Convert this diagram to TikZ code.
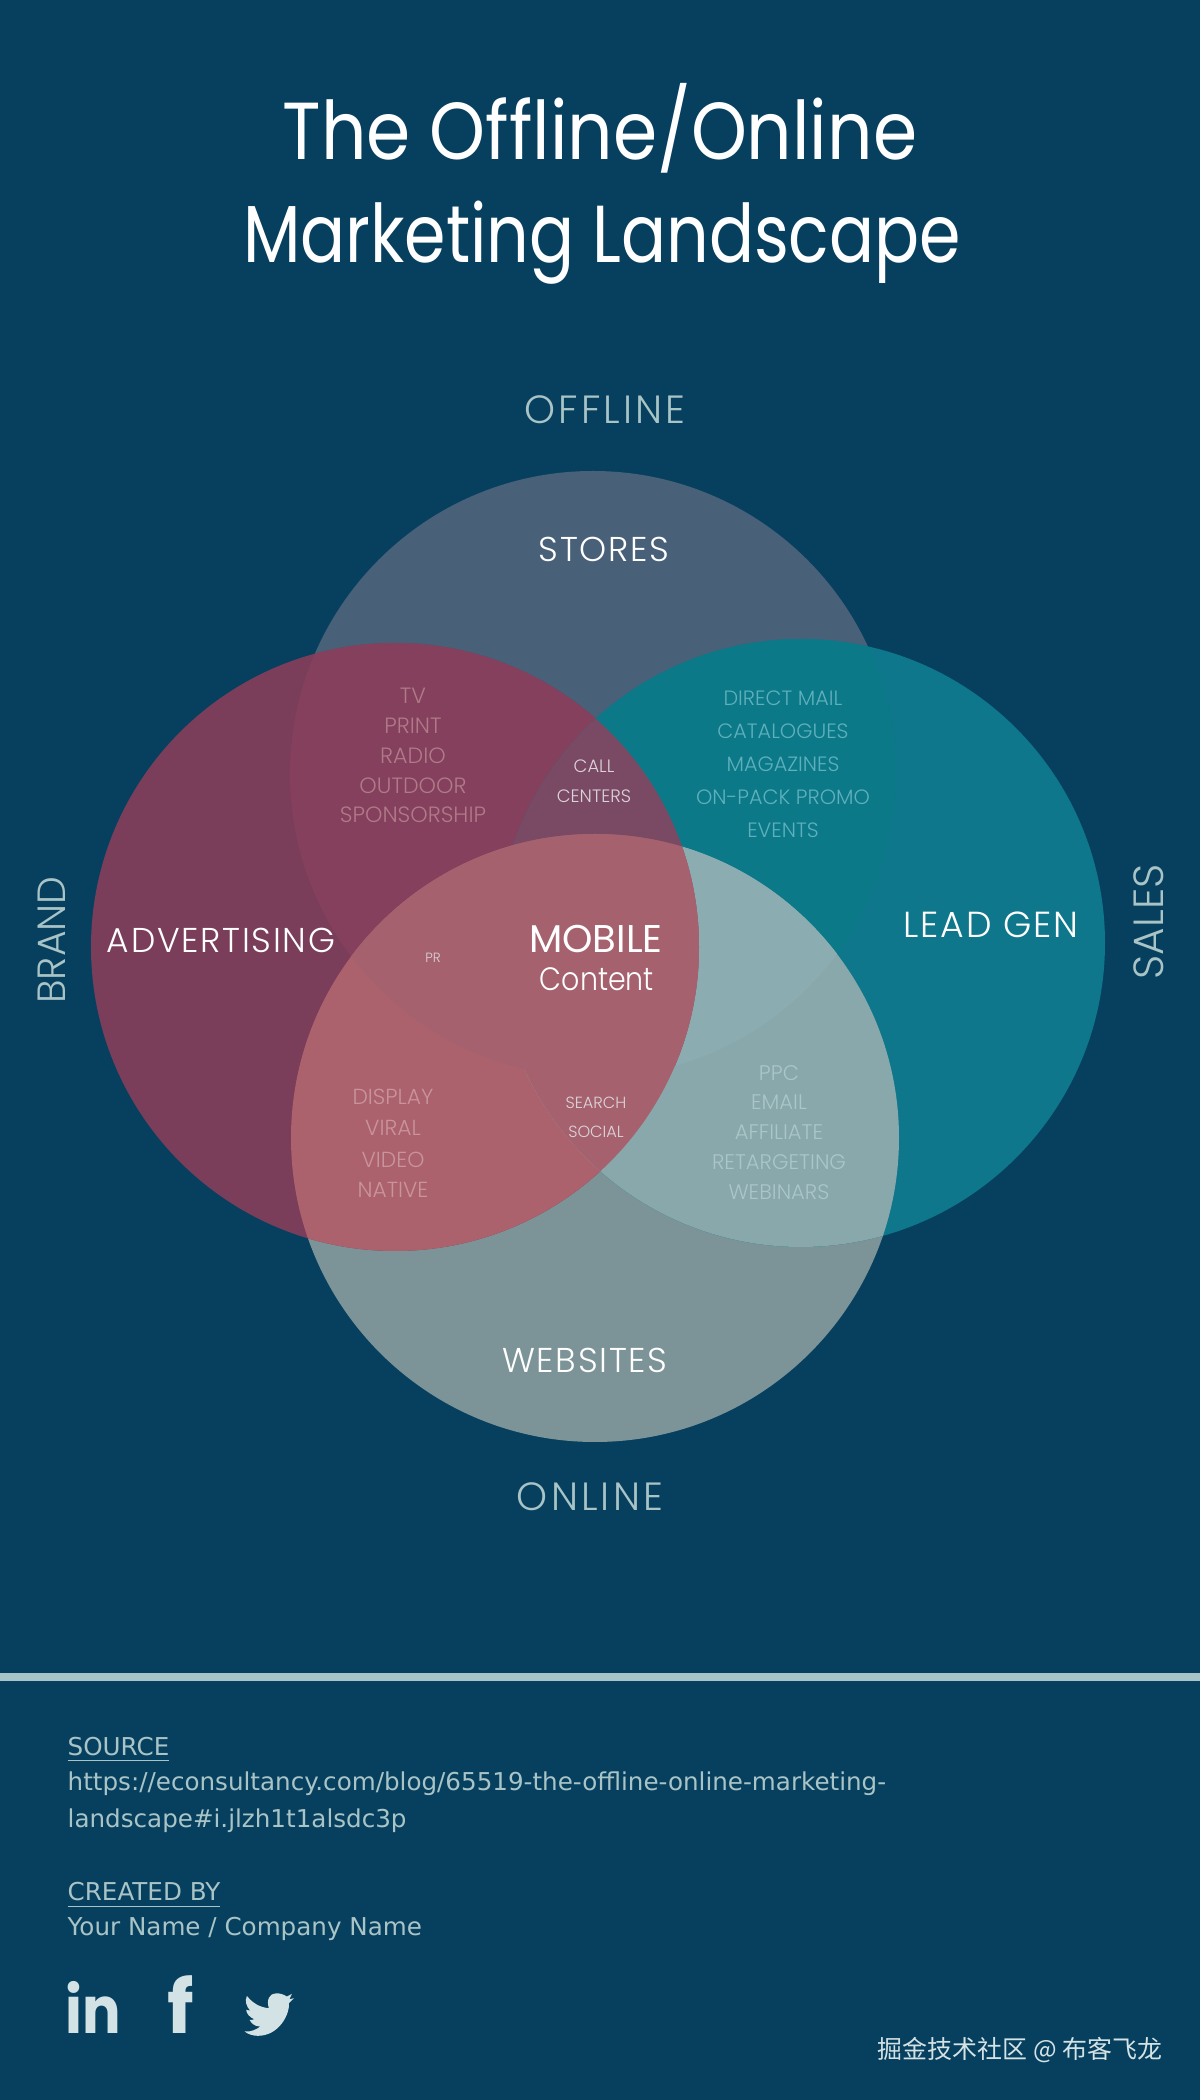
\documentclass[tikz,border=0pt]{standalone}
\usepackage{fontspec}
\newfontfamily\thinfont{Poppins Light}
\newfontfamily\widefont[LetterSpace=8]{Poppins Light}
\newfontfamily\areafont[LetterSpace=5]{Poppins Light}
\newfontfamily\narrowfont[FakeStretch=0.88]{Poppins Light}
\newfontfamily\titlefont[FakeStretch=0.88]{Poppins}
\newfontfamily\titlenarrow[FakeStretch=0.825]{Poppins}
\newfontfamily\plainfont{Poppins}
\newfontfamily\footfont{DejaVu Sans}
\newfontfamily\cjkfont{Noto Sans CJK SC}

\definecolor{bgblue}{HTML}{07405F}
\definecolor{topfill}{HTML}{486078}
\definecolor{redfill}{HTML}{7A3E5A}
\definecolor{tealfill}{HTML}{0E778B}
\definecolor{botfill}{HTML}{7C9497}
\definecolor{redtop}{HTML}{84405C}
\definecolor{redbot}{HTML}{AB626D}
\definecolor{tealtop}{HTML}{0C7988}
\definecolor{tealbot}{HTML}{88A8AB}
\definecolor{tealmid}{HTML}{8BADB1}
\definecolor{callfill}{HTML}{7A4A64}
\definecolor{midfill}{HTML}{A5626E}
\definecolor{pale}{HTML}{A9C4C6}
\definecolor{redlisttext}{HTML}{B07A88}
\definecolor{teallisttext}{HTML}{5FB0BC}
\definecolor{paylisttext}{HTML}{AAC6C8}
\definecolor{showlisttext}{HTML}{C9949C}
\definecolor{smalltext}{HTML}{DCD4DA}
\definecolor{iconfill}{HTML}{D3E2E4}

\def\circred{(3.95,11.53) circle (3.04)}
\def\circteal{(8.01,11.57) circle (3.04)}
\def\circtop{(5.93,13.26) circle (3.03)}
\def\circbot{(5.95,9.62) circle (3.04)}

\tikzset{
  head/.style={inner sep=0, anchor=base, white, font=\titlefont\fontsize{23}{23}\selectfont},
  outer/.style={inner sep=0, text=pale, font=\widefont\fontsize{11.2}{11.2}\selectfont},
  area/.style={inner sep=0, white, font=\areafont\fontsize{9.8}{9.8}\selectfont},
  redlist/.style={inner sep=0, text=redlisttext, font=\thinfont\fontsize{6.3}{6.3}\selectfont},
  teallist/.style={inner sep=0, text=teallisttext, font=\thinfont\fontsize{5.9}{5.9}\selectfont},
  paylist/.style={inner sep=0, text=paylisttext, font=\thinfont\fontsize{6}{6}\selectfont},
  showlist/.style={inner sep=0, text=showlisttext, font=\thinfont\fontsize{6.2}{6.2}\selectfont},
  small/.style={inner sep=0, text=smalltext, font=\thinfont\fontsize{5.1}{5.1}\selectfont},
  foot/.style={inner sep=0, anchor=base west, text=pale, font=\footfont\fontsize{7}{7}\selectfont},
  icon/.style={inner sep=0, anchor=base, text=iconfill, font=\titlefont\bfseries\fontsize{18.5}{18.5}\selectfont},
}

\begin{document}
\begin{tikzpicture}
    \useasboundingbox (0,0) rectangle (12,21);
    \fill[bgblue] (0,0) rectangle (12,21);

    % circles
    \fill[topfill] \circtop;
    \fill[botfill] \circbot;
    \fill[tealfill] \circteal;
    \fill[redfill] \circred;

    % overlaps of two
    \begin{scope} \clip \circred; \fill[redtop] \circtop; \end{scope}
    \begin{scope} \clip \circred; \fill[redbot] \circbot; \end{scope}
    \begin{scope} \clip \circteal; \fill[tealtop] \circtop; \end{scope}
    \begin{scope} \clip \circteal; \fill[tealbot] \circbot; \end{scope}

    % overlaps of three
    \begin{scope} \clip \circteal; \clip \circbot; \fill[tealmid] \circtop; \end{scope}
    \begin{scope} \clip \circred; \clip \circteal; \fill[callfill] \circtop; \end{scope}
    \begin{scope} \clip \circred; \clip \circbot; \fill[midfill] \circtop; \end{scope}
    \begin{scope} \clip \circred; \clip \circbot; \fill[midfill] \circteal; \end{scope}

    % title
    \node[head] (titleone) at (6.00,19.40) {The Offline/Online};
    \node[head, font=\titlenarrow\fontsize{23}{23}\selectfont] (titletwo) at (6.02,18.37) {Marketing Landscape};

    % axes of the chart
    \node[outer] (offline) at (6.05,16.90) {OFFLINE};
    \node[outer] (online) at (5.90,6.03) {ONLINE};
    \node[outer, font=\thinfont\fontsize{11.2}{11.2}\selectfont, rotate=90] (brand) at (0.52,11.60) {BRAND};
    \node[outer, font=\thinfont\fontsize{12}{12}\selectfont, rotate=90] (sales) at (11.49,11.78) {SALES};

    % circle names
    \node[area] (stores) at (6.04,15.51) {STORES};
    \node[area] (advertising) at (2.21,11.60) {ADVERTISING};
    \node[area, font=\areafont\fontsize{10.3}{10.3}\selectfont] (leadgen) at (9.91,11.75) {LEAD GEN};
    \node[area] (websites) at (5.85,7.40) {WEBSITES};

    % middle
    \node[area, font=\plainfont\fontsize{11}{11}\selectfont] (mobile) at (5.96,11.61) {MOBILE};
    \node[area, font=\narrowfont\fontsize{9.2}{9.2}\selectfont] (content) at (5.97,11.21) {Content};
    \node[small, font=\thinfont\fontsize{3.8}{3.8}\selectfont] (pr) at (4.33,11.42) {PR};

    % red and top
    \node[redlist] (tv) at (4.13,14.04) {TV};
    \node[redlist] (print) at (4.13,13.74) {PRINT};
    \node[redlist] (radio) at (4.13,13.44) {RADIO};
    \node[redlist] (outdoor) at (4.13,13.14) {OUTDOOR};
    \node[redlist] (sponsorship) at (4.13,12.85) {SPONSORSHIP};

    % teal and top
    \node[teallist] (directmail) at (7.83,14.02) {DIRECT MAIL};
    \node[teallist] (catalogues) at (7.83,13.69) {CATALOGUES};
    \node[teallist] (magazines) at (7.83,13.36) {MAGAZINES};
    \node[teallist] (onpack) at (7.83,13.03) {ON-PACK PROMO};
    \node[teallist] (events) at (7.83,12.70) {EVENTS};

    % teal and bottom
    \node[paylist] (ppc) at (7.79,10.27) {PPC};
    \node[paylist] (email) at (7.79,9.98) {EMAIL};
    \node[paylist] (affiliate) at (7.79,9.68) {AFFILIATE};
    \node[paylist] (retargeting) at (7.79,9.38) {RETARGETING};
    \node[paylist] (webinars) at (7.79,9.08) {WEBINARS};

    % red and bottom
    \node[showlist] (display) at (3.93,10.03) {DISPLAY};
    \node[showlist] (viral) at (3.93,9.72) {VIRAL};
    \node[showlist] (video) at (3.93,9.40) {VIDEO};
    \node[showlist] (native) at (3.93,9.10) {NATIVE};

    % three circles
    \node[small] (call) at (5.94,13.34) {CALL};
    \node[small] (centers) at (5.94,13.04) {CENTERS};
    \node[small, font=\thinfont\fontsize{4.6}{4.6}\selectfont] (search) at (5.96,9.97) {SEARCH};
    \node[small, font=\thinfont\fontsize{4.6}{4.6}\selectfont] (social) at (5.96,9.68) {SOCIAL};

    % footer
    \fill[pale] (0,4.19) rectangle (12,4.27);
    \node[foot] (source) at (0.67,3.45) {\underline{SOURCE}};
    \node[foot] (urlone) at (0.67,3.09) {https://econsultancy.com/blog/65519-the-offline-online-marketing-};
    \node[foot] (urltwo) at (0.67,2.72) {landscape\#i.jlzh1t1alsdc3p};
    \node[foot] (created) at (0.67,1.99) {\underline{CREATED BY}};
    \node[foot] (yourname) at (0.67,1.65) {Your Name / Company Name};

    % icons
    \node[icon] (linkedin) at (0.93,0.67) {in};
    \node[icon, font=\plainfont\bfseries\fontsize{21}{21}\selectfont] (facebook) at (1.81,0.66) {f};
    \begin{scope}[shift={(0.5,1.4)}, x=0.003333cm, y=-0.003333cm]
        \fill[iconfill] (680,100) .. controls (692,100) and (704,104) .. (712,110)
            -- (727,102) -- (720,118) -- (733,115) -- (718,130)
            .. controls (722,160) and (690,228) .. (625,228)
            .. controls (612,228) and (597,224) .. (585,215)
            .. controls (605,217) and (622,208) .. (632,200)
            .. controls (615,200) and (605,190) .. (600,180)
            .. controls (606,180) and (610,180) .. (614,178)
            .. controls (600,172) and (590,160) .. (590,150)
            .. controls (595,152) and (598,152) .. (602,152)
            .. controls (590,140) and (585,122) .. (592,108)
            .. controls (610,130) and (630,142) .. (658,145)
            .. controls (650,120) and (660,100) .. (680,100) -- cycle;
    \end{scope}

    % corner mark
    \node[inner sep=0, anchor=east, text=iconfill, font=\cjkfont\fontsize{7.1}{7.1}\selectfont] (mark) at (11.63,0.50) {掘金技术社区 @ 布客飞龙};
\end{tikzpicture}
\end{document}
